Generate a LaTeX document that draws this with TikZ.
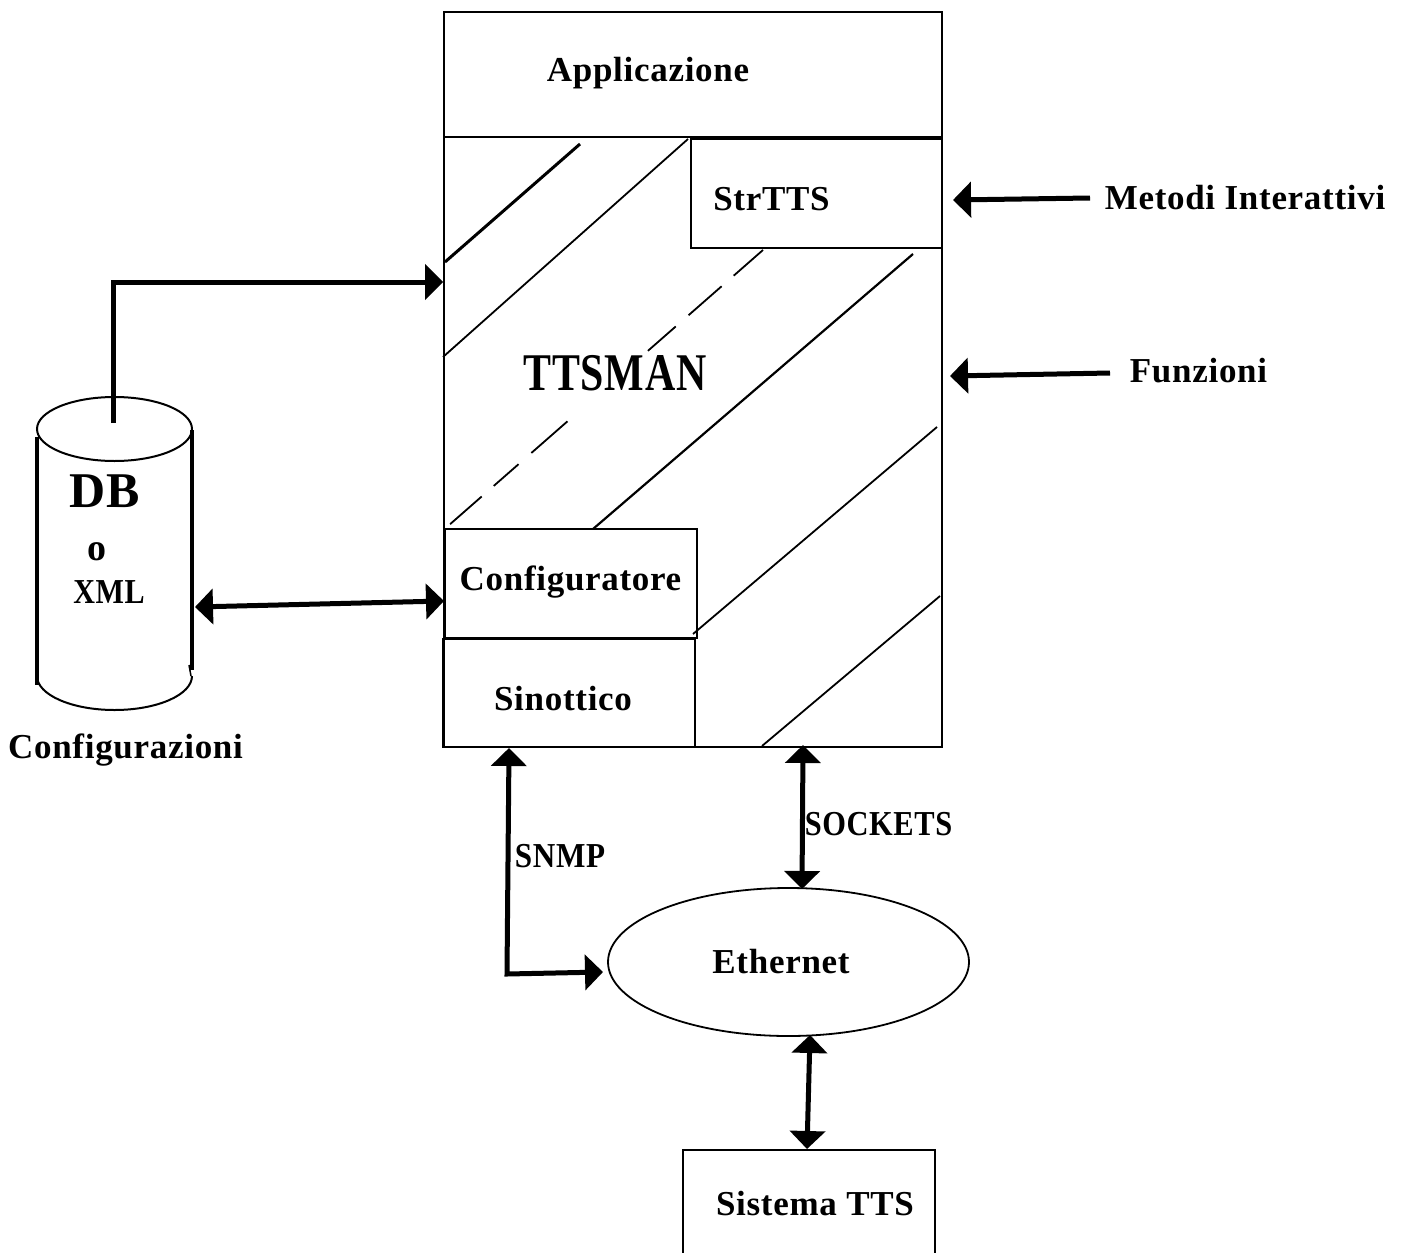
\documentclass[tikz,border=0pt]{standalone}
\usepackage{fontspec}
\usepackage{graphicx}
\setmainfont{Liberation Serif}[LetterSpace=2]
\usetikzlibrary{arrows.meta,shapes.geometric}
\begin{document}
\begin{tikzpicture}[x=1pt,y=-1pt,
  box/.style={draw, line width=1.8pt, inner sep=0pt},
  lbl/.style={font=\fontsize{35}{42}\selectfont\bfseries, inner sep=0pt, anchor=base},
  arr/.style={line width=5pt, -{Triangle[length=18pt,width=35pt]}},
  darr/.style={line width=5pt, {Triangle[length=18pt,width=35pt]}-{Triangle[length=18pt,width=35pt]}},
  hatch/.style={line width=1.8pt},
  cylline/.style={line width=2pt},
  cylside/.style={line width=3.8pt}]
\useasboundingbox (0,0) rectangle (1404,1252);
\clip (0,0) rectangle (1404,1252);
\fill[white] (0,0) rectangle (1404,1252);

% main boxes
\node[box, minimum width=498pt, minimum height=735pt] (tts) at (693,379.5) {};
\node[box, minimum width=498pt, minimum height=125pt] (app) at (693,74.5) {};
\node[box, minimum width=251pt, minimum height=109pt] (str) at (816.5,193.5) {};
\node[box, minimum width=252pt, minimum height=109pt] (conf) at (571,583.5) {};
\node[box, minimum width=252pt, minimum height=108pt] (sin) at (569,693) {};

% hatching
\draw[hatch, line width=3pt] (445,262) -- (580,144);
\draw[hatch] (443,357) -- (688,139);
\draw[hatch, dash pattern=on 39pt off 16pt on 44pt off 17pt on 37pt off 107pt on 48pt off 17pt on 33pt off 16pt on 42pt] (763,250) -- (448,526);
\draw[hatch, line width=2.2pt] (593,529) -- (913,254);
\draw[hatch] (937,427) -- (693,634);
\draw[hatch] (940,596) -- (762,746);

% labels in boxes
\node[lbl] (tApp) at (648,82) {Applicazione};
\node[lbl] (tStr) at (771.5,210) {StrTTS};
\node[lbl, font=\fontsize{53}{60}\selectfont\bfseries] (tMan) at (615,390) {\scalebox{0.79}[1]{TTSMAN}};
\node[lbl] (tConf) at (570.5,590) {Configuratore};
\node[lbl] (tSin) at (563,710) {Sinottico};

% cylinder (DB)
\node[minimum width=155pt, minimum height=313pt, inner sep=0pt] (db) at (114.5,553.5) {};
\draw[cylline] (114.5,429) ellipse [x radius=77.5, y radius=32];
\draw[cylside] (37,437) -- (37,685);
\draw[cylside] (192,430) -- (192,670);
\draw[cylline] (37,676) arc[start angle=180, end angle=0, x radius=77.5, y radius=34];
\draw[line width=1.5pt] (189,665) -- (191,676);
\node[lbl, font=\fontsize{50}{56}\selectfont\bfseries] (tDB) at (105,507) {DB};
\node[lbl, font=\fontsize{38}{44}\selectfont\bfseries] (tO) at (97,560) {o};
\node[lbl] (tXML) at (109,603) {\scalebox{0.86}[1]{XML}};
\node[lbl] (tConfz) at (125.5,758) {Configurazioni};

% right side labels
\node[lbl] (tMet) at (1245,209) {Metodi Interattivi};
\node[lbl] (tFun) at (1198.5,382) {Funzioni};

% ethernet and sistema
\node[draw, ellipse, line width=1.8pt, minimum width=361pt, minimum height=148pt, inner sep=0pt] (eth) at (788.5,962) {};
\node[lbl] (tEth) at (781,973) {Ethernet};
\node[box, minimum width=252pt, minimum height=151pt, anchor=north] (sys) at (809,1149) {};
\node[lbl] (tSys) at (815,1215) {Sistema TTS};
\node[lbl] (tSNMP) at (560,867) {\scalebox{0.89}[1]{SNMP}};
\node[lbl] (tSock) at (878.5,835) {\scalebox{0.87}[1]{SOCKETS}};

% connector endpoints
\coordinate (dbtop) at (113,423);
\coordinate (ttsin) at (tts.west |- 0,282);
\coordinate (dbright) at (195,607);
\coordinate (confin) at (444,601);
\coordinate (metA) at (1090,198);
\coordinate (metB) at (953,200);
\coordinate (funA) at (1110,373);
\coordinate (funB) at (950,376);
\coordinate (sinB) at (509,748);
\coordinate (snmpC) at (507,974);
\coordinate (ethW) at (603,972);
\coordinate (sockT) at (803,745);
\coordinate (sockB) at (802,889);
\coordinate (ethS) at (810,1035);
\coordinate (sysN) at (807,1149);

% connectors
\draw[arr] (dbtop) |- (ttsin);
\draw[darr] (dbright) -- (confin);
\draw[arr] (metA) -- (metB);
\draw[arr] (funA) -- (funB);
\draw[darr] (sinB) -- (snmpC) -- (ethW);
\draw[darr] (sockT) -- (sockB);
\draw[darr] (ethS) -- (sysN);
\end{tikzpicture}
\end{document}
